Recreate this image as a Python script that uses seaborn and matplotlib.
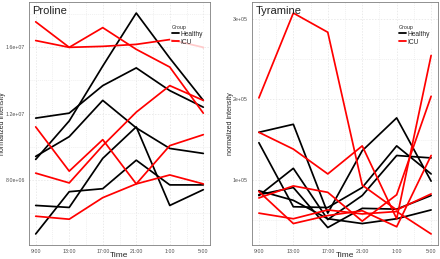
import matplotlib
matplotlib.use("Agg")
import matplotlib.pyplot as plt
import numpy as np
import pandas as pd
import seaborn as sns
from matplotlib.lines import Line2D
from matplotlib.ticker import FixedLocator

TIMES = ["9:00", "13:00", "17:00", "21:00", "1:00", "5:00"]

# Proline, normalized intensity (units of 1e6)
PROLINE_HEALTHY = [
    [11.73, 12.03, 13.69, 14.76, 13.39, 12.39],
    [9.24, 11.56, 14.87, 18.07, 15.35, 12.80],
    [9.42, 10.61, 12.80, 11.14, 9.90, 9.60],
    [6.46, 6.34, 9.30, 11.20, 6.46, 7.41],
    [4.74, 7.29, 7.47, 9.19, 7.70, 7.70],
]
PROLINE_ICU = [
    [17.54, 16.00, 17.19, 15.88, 14.81, 12.03],
    [16.41, 16.00, 16.06, 16.18, 16.47, 16.00],
    [11.20, 8.53, 10.43, 7.76, 10.07, 10.73],
    [8.41, 7.82, 10.07, 12.09, 13.69, 12.80],
    [5.81, 5.63, 6.93, 7.76, 8.30, 7.76],
]

# Tyramine, normalized intensity (units of 1e5)
TYRAMINE_HEALTHY = [
    [1.59, 1.69, 0.58, 1.36, 1.77, 0.98],
    [1.46, 0.66, 0.65, 0.90, 1.42, 1.07],
    [0.80, 1.14, 0.50, 0.80, 1.30, 1.27],
    [0.81, 0.90, 0.40, 0.64, 0.63, 0.80],
    [0.86, 0.74, 0.51, 0.45, 0.51, 0.62],
]
TYRAMINE_ICU = [
    [2.02, 3.08, 2.84, 0.93, 0.62, 0.82],
    [1.59, 1.38, 1.07, 1.42, 0.51, 2.55],
    [0.77, 0.92, 0.84, 0.48, 0.81, 2.04],
    [0.85, 0.45, 0.55, 0.61, 0.41, 1.30],
    [0.58, 0.51, 0.62, 0.57, 0.60, 0.32],
]

PALETTE = {"Healthy": "black", "ICU": "red"}
GRID = "#ebebeb"
BORDER = "#7f7f7f"
TICK_TXT = "#4d4d4d"


def to_frame(healthy, icu, scale):
    rows = []
    for group, series in (("Healthy", healthy), ("ICU", icu)):
        for i, vals in enumerate(series):
            for t, v in enumerate(vals):
                rows.append({"Time": t, "value": v * scale, "Group": group,
                             "subject": f"{group}{i}"})
    return pd.DataFrame(rows)


def draw_panel(ax, df, title, yticks, yticklabels, yminor, leg_x, ylab_x):
    sns.lineplot(data=df, x="Time", y="value", hue="Group", units="subject",
                 estimator=None, palette=PALETTE, linewidth=1.25, ax=ax,
                 legend=False, sort=False)
    ax.set_xlim(-0.2, 5.2)
    ax.set_xticks(range(len(TIMES)))
    ax.set_xticklabels(TIMES)
    ax.xaxis.set_minor_locator(FixedLocator(np.arange(0.5, 5, 1)))
    ax.set_yticks(yticks)
    ax.set_yticklabels(yticklabels)
    ax.yaxis.set_minor_locator(FixedLocator(yminor))
    ax.grid(True, which="major", color=GRID, linestyle=(0, (1.5, 1.5)), linewidth=0.7)
    ax.grid(True, which="minor", color=GRID, linestyle=(0, (1.5, 1.5)), linewidth=0.5)
    ax.set_axisbelow(True)
    ax.tick_params(which="major", length=2, width=0.5, color=BORDER,
                   labelsize=3.8, labelcolor=TICK_TXT, pad=1)
    ax.tick_params(which="minor", length=0)
    for s in ax.spines.values():
        s.set_color(BORDER)
        s.set_linewidth(0.6)
    ax.set_xlabel("Time", fontsize=6)
    ax.xaxis.set_label_coords(0.5, -0.045)
    ax.xaxis.label.set_va("center")
    ax.set_ylabel("normalized intensity", fontsize=5)
    ax.yaxis.set_label_coords(ylab_x, 0.5)
    ax.yaxis.label.set_va("center")
    ax.text(0.02, 0.985, title, transform=ax.transAxes, ha="left", va="top",
            fontsize=8, color="#222222")
    handles = [Line2D([], [], color=c, linewidth=1.3) for c in PALETTE.values()]
    leg = ax.legend(handles, list(PALETTE.keys()), title="Group", loc="upper left",
                    bbox_to_anchor=(leg_x, 0.915), fontsize=4.8, title_fontsize=3.8,
                    frameon=True, handlelength=1.0, handletextpad=0.3,
                    borderpad=0.3, labelspacing=0.15, borderaxespad=0)
    leg.get_frame().set_edgecolor("white")
    leg.get_frame().set_linewidth(0)
    leg._legend_box.align = "left"


def main():
    sns.set_style("white")
    plt.rcParams["font.family"] = ["Liberation Sans", "DejaVu Sans"]
    fig = plt.figure(figsize=(4.4, 2.59), dpi=100)
    H = 259.0
    W = 440.0
    ax1 = fig.add_axes([29 / W, (H - 245) / H, 181 / W, 243 / H])
    ax2 = fig.add_axes([252 / W, (H - 245) / H, 186 / W, 243 / H])

    df_pro = to_frame(PROLINE_HEALTHY, PROLINE_ICU, 1e6)
    draw_panel(ax1, df_pro, "Proline", [8e6, 1.2e7, 1.6e7],
               ["8.0e+06", "1.2e+07", "1.6e+07"], [6e6, 1e7, 1.4e7, 1.8e7],
               0.78, -0.145)

    df_tyr = to_frame(TYRAMINE_HEALTHY, TYRAMINE_ICU, 1e5)
    draw_panel(ax2, df_tyr, "Tyramine", [1e5, 2e5, 3e5],
               ["1e+05", "2e+05", "3e+05"], [0.5e5, 1.5e5, 2.5e5],
               0.78, -0.115)

    fig.savefig("out.png", dpi=100)


if __name__ == "__main__":
    main()
